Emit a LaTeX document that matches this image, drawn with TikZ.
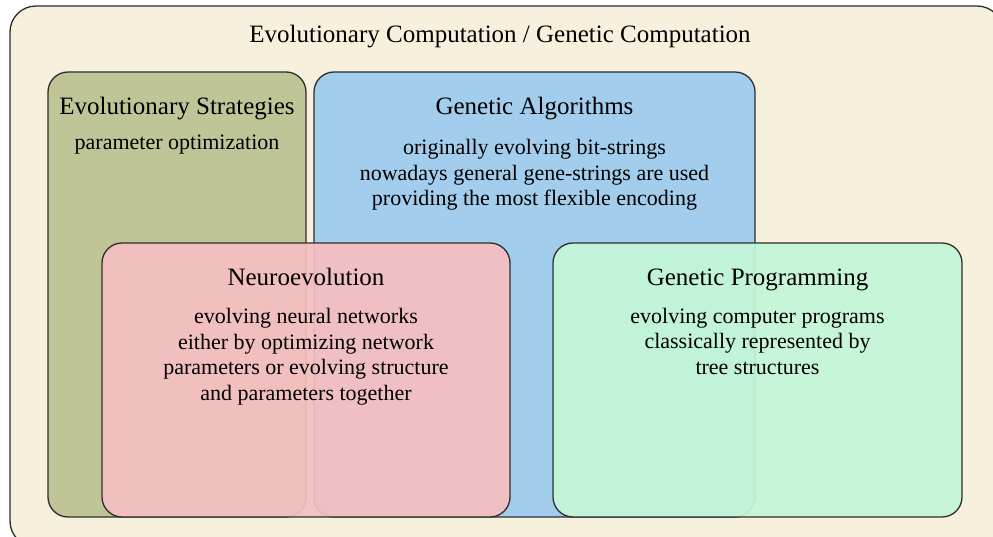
\documentclass[tikz,border=0pt]{standalone}
\usepackage{fontspec}
\setmainfont{Liberation Serif}
\definecolor{outerc}{HTML}{F6F0DC}
\definecolor{esc}{HTML}{BFC596}
\definecolor{gac}{HTML}{A3CDEC}
\definecolor{nec}{HTML}{F5BFC1}
\definecolor{gpc}{HTML}{C4F6D7}
\definecolor{edgec}{HTML}{2E2E2E}
\tikzset{
  box/.style={draw=edgec, line width=1.3pt, rounded corners=20pt},
  overbox/.style={box, fill opacity=0.93},
  head/.style={anchor=base, inner sep=0pt, font=\fontsize{25}{30}\selectfont},
  body/.style={anchor=base, inner sep=0pt, align=center, font=\fontsize{22}{25.5}\selectfont},
}
\begin{document}
\begin{tikzpicture}[x=1pt,y=-1pt]
\useasboundingbox (0,0) rectangle (993,537);
\path[box, fill=outerc, rounded corners=26pt] (10,6) rectangle (1003,547);
\node[head] (title) at (500,43) {Evolutionary Computation / Genetic Computation};
% Evolutionary Strategies
\path[box, fill=esc] (48,72) rectangle (306,517);
\node[head] (esh) at (177,115) {Evolutionary Strategies};
\node[body] (esb) at (177,150) {parameter optimization};
% Genetic Algorithms
\path[box, fill=gac] (314,72) rectangle (755,517);
\node[head] (gah) at (534.5,115) {Genetic Algorithms};
\node[body] (gab) at (534.5,206) {originally evolving bit-strings\\nowadays general gene-strings are used\\providing the most flexible encoding};
% Neuroevolution
\path[overbox, fill=nec] (102,243) rectangle (510,517);
\node[head] (neh) at (306,286) {Neuroevolution};
\node[body] (neb) at (306,400) {evolving neural networks\\either by optimizing network\\parameters or evolving structure\\and parameters together};
% Genetic Programming
\path[overbox, fill=gpc] (553,243) rectangle (962,517);
\node[head] (gph) at (757.5,286) {Genetic Programming};
\node[body] (gpb) at (757.5,374) {evolving computer programs\\classically represented by\\tree structures};
\end{tikzpicture}
\end{document}
